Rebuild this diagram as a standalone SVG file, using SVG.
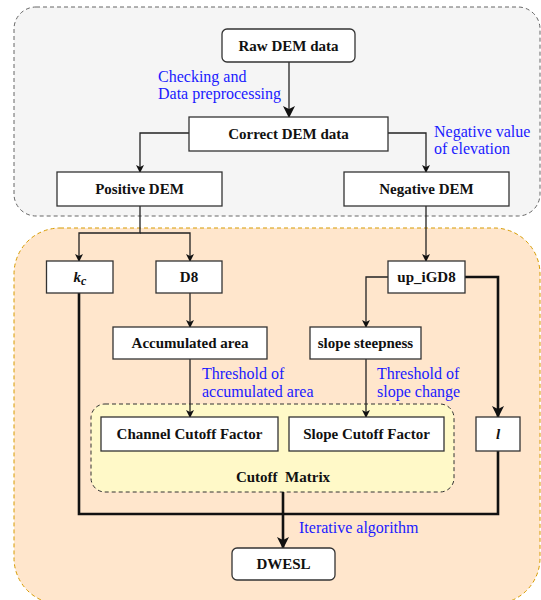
<svg xmlns="http://www.w3.org/2000/svg" width="541" height="600" viewBox="0 0 541 600">
<style>
.box{fill:#fff;stroke:#333;stroke-width:1.3}
.lbl{font-family:'Liberation Serif','Times New Roman','DejaVu Serif',serif;font-weight:bold;font-size:15px;fill:#111;text-anchor:middle}
.note{font-family:'Liberation Serif','Times New Roman','DejaVu Serif',serif;font-size:16px;fill:#1a1aff}
.thin{fill:none;stroke:#222;stroke-width:1.3}
.thick{fill:none;stroke:#111;stroke-width:2.6}
</style>
<defs>
<marker id="a" markerWidth="8" markerHeight="8" refX="7" refY="4" orient="auto" markerUnits="userSpaceOnUse"><path d="M0,0 L8,4 L0,8 L2,4 Z" fill="#111"/></marker>
<marker id="b" markerWidth="12" markerHeight="12" refX="11" refY="6" orient="auto" markerUnits="userSpaceOnUse"><path d="M0,0 L12,6 L0,12 L3,6 Z" fill="#111"/></marker>
</defs>
<rect x="14" y="7" width="526" height="209" rx="22" fill="#f5f5f5" stroke="#666" stroke-width="1" stroke-dasharray="4,3"/>
<rect x="14" y="228" width="526" height="376" rx="46" fill="#ffe6cc" stroke="#d79b00" stroke-width="1" stroke-dasharray="4,3"/>
<g id="matrix">
<rect x="91" y="404" width="363" height="88" rx="14" fill="#fff9c8" stroke="#333" stroke-width="1" stroke-dasharray="4,3"/>
<text class="lbl" x="283" y="482" xml:space="preserve" font-family="'Liberation Serif', serif">Cutoff  Matrix</text>
</g>
<g id="connectors">
<path class="thin" d="M289,62 V117" marker-end="url(#b)"/>
<path class="thin" d="M189,133 H140 V172" marker-end="url(#a)"/>
<path class="thin" d="M388,133 H426 V172" marker-end="url(#a)"/>
<path class="thin" d="M140,206 V233 H79 V261" marker-end="url(#a)"/>
<path class="thin" d="M140,233 H190 V261" marker-end="url(#a)"/>
<path class="thin" d="M426,206 V261" marker-end="url(#a)"/>
<path class="thin" d="M190,293 V327" marker-end="url(#a)"/>
<path class="thin" d="M388,277 H366 V327" marker-end="url(#a)"/>
<path class="thick" d="M465,277 H498 V417" marker-end="url(#b)"/>
<path class="thin" d="M190,359 V417" marker-end="url(#a)"/>
<path class="thin" d="M366,359 V417" marker-end="url(#a)"/>
<path class="thick" d="M79,293 V514 H498 V451"/>
<path class="thick" d="M283,492 V548" marker-end="url(#b)"/>
</g>
<g id="raw"><rect class="box" x="222" y="29" width="133" height="33" rx="5"/><text class="lbl" x="288.5" y="51">Raw DEM data</text></g>
<g id="correct"><rect class="box" x="189" y="117" width="199" height="34"/><text class="lbl" x="288.5" y="139">Correct DEM data</text></g>
<g id="positive"><rect class="box" x="57" y="172" width="165" height="34"/><text class="lbl" x="139.5" y="194">Positive DEM</text></g>
<g id="negative"><rect class="box" x="344" y="172" width="165" height="34"/><text class="lbl" x="426.5" y="194">Negative DEM</text></g>
<g id="kc"><rect class="box" x="46.5" y="261" width="66.5" height="32"/><text class="lbl" x="80" y="282" font-style="italic">k<tspan font-size="12" dy="3">c</tspan></text></g>
<g id="d8"><rect class="box" x="156" y="261" width="66" height="32"/><text class="lbl" x="189" y="282">D8</text></g>
<g id="upigd8"><rect class="box" x="388" y="261" width="77" height="32"/><text class="lbl" x="426.5" y="282">up_iGD8</text></g>
<g id="accum"><rect class="box" x="113" y="327" width="154" height="32"/><text class="lbl" x="190" y="348">Accumulated area</text></g>
<g id="slope"><rect class="box" x="310" y="327" width="111" height="32"/><text class="lbl" x="365.5" y="348">slope steepness</text></g>
<g id="channelcf"><rect class="box" x="101" y="417" width="177" height="34"/><text class="lbl" x="189.5" y="439">Channel Cutoff Factor</text></g>
<g id="slopecf"><rect class="box" x="289" y="417" width="155" height="34"/><text class="lbl" x="366.5" y="439">Slope Cutoff Factor</text></g>
<g id="l"><rect class="box" x="476" y="417" width="44" height="34"/><text class="lbl" x="498" y="439" font-style="italic">l</text></g>
<g id="dwesl"><rect class="box" x="232" y="548" width="103" height="32" rx="5"/><text class="lbl" x="283.5" y="569">DWESL</text></g>
<g id="notes">
<text class="note" x="158" y="82">Checking and</text>
<text class="note" x="158" y="99">Data preprocessing</text>
<text class="note" x="434" y="137">Negative value</text>
<text class="note" x="434" y="154">of elevation</text>
<text class="note" x="202" y="379">Threshold of</text>
<text class="note" x="202" y="397">accumulated area</text>
<text class="note" x="377" y="379">Threshold of</text>
<text class="note" x="377" y="397">slope change</text>
<text class="note" x="299" y="533">Iterative algorithm</text>
</g>
</svg>
